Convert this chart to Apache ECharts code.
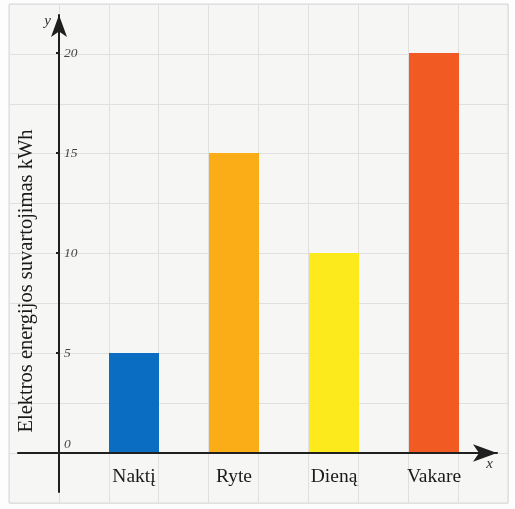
<!DOCTYPE html>
<html><head><meta charset="utf-8">
<script src="https://cdn.jsdelivr.net/npm/echarts@6/dist/echarts.min.js"></script>
<style>html,body{margin:0;padding:0;background:#fdfdfd}#c{width:515px;height:509px}</style>
</head><body><div id="c"></div>
<script>
const categories = ['Naktį', 'Ryte', 'Dieną', 'Vakare'];
const values = [5, 15, 10, 20];
const barColors = ['#0a6dc1', '#fbad18', '#fdea1c', '#f25a24'];
const yTicks = [0, 5, 10, 15, 20];
const yName = 'Elektros energijos suvartojimas kWh';

const serif = 'Liberation Serif';
const chart = echarts.init(document.getElementById('c'));
chart.setOption({
  animation: false,
  grid: [
    {left: 9, top: 4, width: 499, height: 499, show: true, backgroundColor: '#f6f6f4', borderColor: '#d9d9d9', borderWidth: 1},
    {left: 84, top: 53, width: 400, height: 400},
    {left: 59, top: 15, width: 10, height: 477},
    {left: 18, top: 443, width: 479, height: 10}
  ],
  xAxis: [
    {gridIndex: 0, type: 'value', min: 0, max: 10, interval: 1, axisLine: {show: false}, axisTick: {show: false}, axisLabel: {show: false},
     splitLine: {show: true, lineStyle: {color: '#e0e0e0', width: 1}}},
    {gridIndex: 1, type: 'category', data: categories, axisLine: {show: false}, axisTick: {show: false},
     axisLabel: {fontFamily: serif, fontSize: 19.5, color: '#1a1a1a', margin: 14}},
    {gridIndex: 2, type: 'value', show: false},
    {gridIndex: 3, type: 'value', min: 0, max: 1, z: 5, axisLine: {show: true, symbol: ['none', 'arrow'], symbolSize: [13, 24], lineStyle: {color: '#1f1f1f', width: 2}},
     axisTick: {show: false}, axisLabel: {show: false}, splitLine: {show: false},
     name: 'x', nameLocation: 'end', nameGap: 0,
     nameTextStyle: {fontFamily: serif, fontStyle: 'italic', fontSize: 15, color: '#333', align: 'right', verticalAlign: 'top', padding: [4, 4, 0, 0]}}
  ],
  yAxis: [
    {gridIndex: 0, type: 'value', min: 0, max: 10, interval: 1, axisLine: {show: false}, axisTick: {show: false}, axisLabel: {show: false},
     splitLine: {show: true, lineStyle: {color: '#e0e0e0', width: 1}}},
    {gridIndex: 1, type: 'value', min: 0, max: 20, interval: 5, offset: 25, z: 6,
     axisLine: {show: false}, axisTick: {show: true, length: 3, lineStyle: {color: '#222', width: 2}},
     splitLine: {show: false},
     axisLabel: {inside: true, margin: 5, fontFamily: serif, fontStyle: 'italic', fontSize: 13.5, color: '#444',
       formatter: v => yTicks.indexOf(v) < 0 ? '' : (v === 0 ? '{z|0}' : String(v)),
       rich: {z: {fontFamily: serif, fontStyle: 'italic', fontSize: 13.5, color: '#444', padding: [0, 0, 18, 0]}}},
     name: yName, nameLocation: 'middle', nameGap: 22, nameRotate: 90,
     nameTextStyle: {fontFamily: serif, fontSize: 20.5, color: '#1a1a1a', padding: [0, 56, 0, 0]}},
    {gridIndex: 2, type: 'value', min: 0, max: 1, z: 5, axisLine: {show: true, symbol: ['none', 'arrow'], symbolSize: [12, 22], lineStyle: {color: '#1f1f1f', width: 2}},
     axisTick: {show: false}, axisLabel: {show: false}, splitLine: {show: false},
     name: 'y', nameLocation: 'end', nameGap: -14,
     nameTextStyle: {fontFamily: serif, fontStyle: 'italic', fontSize: 15, color: '#333', align: 'right', verticalAlign: 'bottom', padding: [0, 8, 0, 0]}},
    {gridIndex: 3, type: 'value', show: false}
  ],
  series: [{
    type: 'bar', xAxisIndex: 1, yAxisIndex: 1, barWidth: 50,
    data: values.map((v, i) => ({value: v, itemStyle: {color: barColors[i]}}))
  }]
});
</script></body></html>
